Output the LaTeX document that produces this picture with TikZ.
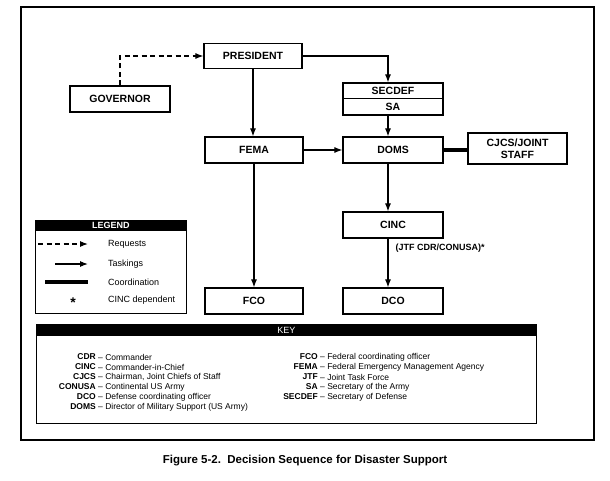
\documentclass[tikz,border=0pt]{standalone}
\usepackage{fontspec}
\setmainfont{Liberation Sans}
\usetikzlibrary{arrows.meta}
\begin{document}
\begin{tikzpicture}[x=1pt,y=-1pt,
  box/.style={draw, line width=1.2pt, minimum width=98pt, minimum height=26pt, inner sep=0pt, font=\fontsize{10.5}{12.3}\selectfont\bfseries},
  tip/.style={-{Latex[length=8pt,width=6pt]}},
  task/.style={tip, line width=1.1pt},
  req/.style={tip, line width=1.1pt, dash pattern=on 5pt off 3.5pt},
  coordln/.style={line width=4pt},
  lab/.style={font=\fontsize{8.5}{10}\selectfont, inner sep=0pt},
  leglab/.style={font=\fontsize{9}{10}\selectfont, inner sep=0pt, anchor=west},
  abbr/.style={inner sep=0pt, font=\fontsize{8.5}{10}\selectfont\bfseries, anchor=east},
  desc/.style={lab, anchor=west},
  panel/.style={draw, line width=0.9pt, inner sep=0pt, anchor=north west},
  head/.style={fill=black, text=white, inner sep=0pt, anchor=north},
]
\useasboundingbox (0,0) rectangle (610,480);
% outer frame
\draw[line width=1.3pt] (21,7) rectangle (594,440);

% boxes
\node[box, minimum height=25pt] (pres) at (253,56) {PRESIDENT};
\node[box, minimum width=100pt] (gov) at (120,99) {GOVERNOR};
\node[box, minimum width=100pt, minimum height=15.5pt] (secdef) at (393,90.75) {SECDEF};
\node[box, minimum width=100pt, minimum height=16.5pt] (sa) at (393,106.75) {SA};
\node[box] (fema) at (254,150) {FEMA};
\node[box, minimum width=100pt] (doms) at (393,150) {DOMS};
\node[box, minimum width=99pt, minimum height=31pt, align=center] (cjcs) at (517.5,148.5) {CJCS/JOINT\\STAFF};
\node[box, minimum width=100pt] (cinc) at (393,225) {CINC};
\node[box, minimum width=100pt] (dco) at (393,301) {DCO};
\node[box] (fco) at (254,301) {FCO};
\coordinate (colR) at (388,0);

% connectors
\draw[req] (gov.north) |- (pres.west);
\draw[task] (pres.east) -| (secdef.north -| colR);
\draw[task] (pres.south) -- (pres.south |- fema.north);
\draw[task] (sa.south -| colR) -- (doms.north -| colR);
\draw[task] (fema.east) -- (doms.west);
\draw[coordln] (doms.east) -- (doms.east -| cjcs.west);
\draw[task] (doms.south -| colR) -- (cinc.north -| colR);
\draw[task] (cinc.south -| colR) -- (dco.north -| colR)
  node[pos=0.2, right=7pt, inner sep=0pt, font=\fontsize{9}{10}\selectfont\bfseries] (jtf) {(JTF CDR/CONUSA)*};
\draw[task] (fema.south) -- (fco.north);

% legend
\node[panel, minimum width=151pt, minimum height=93pt] (legend) at (35,220) {};
\node[head, minimum width=151pt, minimum height=10.5pt, font=\fontsize{9}{10}\selectfont\bfseries] (leghead) at (legend.north) {LEGEND};
\coordinate (r1a) at (38,244); \coordinate (r1b) at (88,244);
\coordinate (r2a) at (55,264); \coordinate (r2b) at (88,264);
\coordinate (r3a) at (45,282); \coordinate (r3b) at (88,282);
\draw[req] (r1a) -- (r1b);
\draw[task] (r2a) -- (r2b);
\draw[line width=3.5pt] (r3a) -- (r3b);
\node[inner sep=0pt, font=\fontsize{14}{14}\selectfont\bfseries] (star) at (73,303) {*};
\node[leglab] (lg1) at (108,244) {Requests};
\node[leglab] (lg2) at (108,264) {Taskings};
\node[leglab] (lg3) at (108,282) {Coordination};
\node[leglab] (lg4) at (108,300) {CINC dependent};

% key
\node[panel, minimum width=500pt, minimum height=99pt] (key) at (36,324) {};
\node[head, minimum width=500pt, minimum height=12pt, font=\fontsize{9}{10}\selectfont] (keyhead) at (key.north) {KEY};
\node[abbr] (ka1) at (96,357) {CDR};     \node[desc] (kd1) at (98,357) {-- Commander};
\node[abbr] (ka2) at (96,367) {CINC};    \node[desc] (kd2) at (98,367) {-- Commander-in-Chief};
\node[abbr] (ka3) at (96,377) {CJCS};    \node[desc] (kd3) at (98,377) {-- Chairman, Joint Chiefs of Staff};
\node[abbr] (ka4) at (96,387) {CONUSA};  \node[desc] (kd4) at (98,387) {-- Continental US Army};
\node[abbr] (ka5) at (96,397) {DCO};     \node[desc] (kd5) at (98,397) {-- Defense coordinating officer};
\node[abbr] (ka6) at (96,407) {DOMS};    \node[desc] (kd6) at (98,407) {-- Director of Military Support (US Army)};
\node[abbr] (kb1) at (318,357) {FCO};    \node[desc] (ke1) at (320,357) {-- Federal coordinating officer};
\node[abbr] (kb2) at (318,367) {FEMA};   \node[desc] (ke2) at (320,367) {-- Federal Emergency Management Agency};
\node[abbr] (kb3) at (318,377) {JTF};    \node[desc] (ke3) at (320,377) {-- Joint Task Force};
\node[abbr] (kb4) at (318,387) {SA};     \node[desc] (ke4) at (320,387) {-- Secretary of the Army};
\node[abbr] (kb5) at (318,397) {SECDEF}; \node[desc] (ke5) at (320,397) {-- Secretary of Defense};

% caption
\node[inner sep=0pt, font=\fontsize{11.5}{13}\selectfont\bfseries] (cap) at (305,461) {Figure 5-2.\ \ Decision Sequence for Disaster Support};
\end{tikzpicture}
\end{document}
